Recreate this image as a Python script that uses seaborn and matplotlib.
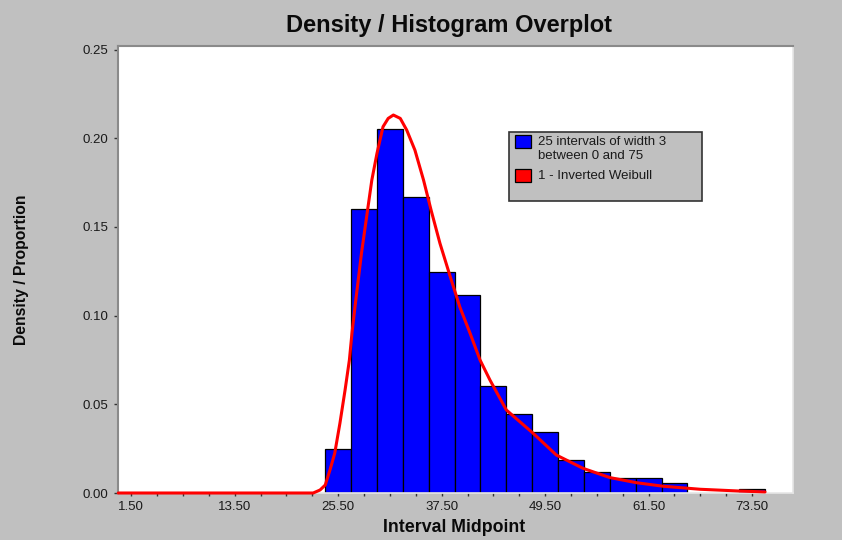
import numpy as np
import pandas as pd
import matplotlib
matplotlib.use("Agg")
import matplotlib.pyplot as plt
from matplotlib.patches import Rectangle
import seaborn as sns

# histogram: 25 intervals of width 3 between 0 and 75 (proportions)
bin_mids = np.arange(1.5, 75, 3)
bin_props = [0, 0, 0, 0, 0, 0, 0, 0, 0.0248, 0.160, 0.2052, 0.1669, 0.1248,
             0.1116, 0.0603, 0.0444, 0.0342, 0.0184, 0.0120, 0.0085, 0.0085,
             0.0055, 0, 0, 0.0023]

# fitted inverted weibull density
curve_x = [0, 22.6, 23.4, 24.0, 24.55, 25.1, 25.7, 26.3, 26.8, 27.1, 27.45,
           28.2, 28.8, 29.4, 30.0, 30.7, 31.3, 31.9, 32.7, 33.45, 34.4, 35.4,
           36.3, 37.3, 38.5, 39.6, 40.8, 41.95, 43.1, 45.0, 48.1, 50.8, 53.9,
           57.0, 60.1, 63.2, 67.5, 72.1, 75.0]
curve_y = [0, 0, 0.0017, 0.0045, 0.013, 0.0224, 0.0393, 0.0581, 0.0750,
           0.0902, 0.105, 0.1351, 0.1558, 0.1764, 0.1915, 0.2065, 0.2112,
           0.2131, 0.2112, 0.2046, 0.1933, 0.1764, 0.1590, 0.1408, 0.1219,
           0.1050, 0.0900, 0.0750, 0.0637, 0.0468, 0.0337, 0.0214, 0.0139,
           0.0087, 0.0058, 0.0038, 0.0021, 0.0011, 0.0006]

major_ticks = [1.5, 13.5, 25.5, 37.5, 49.5, 61.5, 73.5]
minor_ticks = list(bin_mids)
y_ticks = [0, 0.05, 0.10, 0.15, 0.20, 0.25]

legend_labels = ["25 intervals of width 3", "between 0 and 75", "1 - Inverted Weibull"]

hist_df = pd.DataFrame({"mid": bin_mids, "prop": bin_props})
curve_df = pd.DataFrame({"x": curve_x, "y": curve_y})

sns.set_style("white")
plt.rcParams["font.family"] = ["Liberation Sans", "DejaVu Sans"]

W, H = 842, 540
grey = "#c0c0c0"


def fx(px):
    return px / W


def fy(py):
    return 1 - py / H


fig = plt.figure(figsize=(W / 100, H / 100), dpi=100, facecolor=grey)
ax = fig.add_axes([fx(118.3), fy(493), (793.3 - 118.3) / W, (493 - 45.5) / H])
ax.set_facecolor("white")

sns.histplot(data=hist_df, x="mid", weights="prop", binwidth=3,
             binrange=(0, 75), stat="count", color="#0000ff",
             edgecolor="black", linewidth=0.9, alpha=1, ax=ax)
for p in ax.patches:
    if p.get_height() == 0:
        p.set_visible(False)

sns.lineplot(data=curve_df, x="x", y="y", color="#ff0000", linewidth=2.2,
             sort=False, estimator=None, ax=ax, clip_on=False, zorder=5)

ax.set_xlim(0, 78.28)
ax.set_ylim(0, 0.2523)
ax.set_xticks(major_ticks)
ax.set_xticklabels([f"{t:.2f}" for t in major_ticks])
ax.set_xticks(minor_ticks, minor=True)
ax.set_yticks(y_ticks)
ax.set_yticklabels([f"{t:.2f}" for t in y_ticks])
ax.set_xlabel("")
ax.set_ylabel("")

ax.tick_params(axis="x", which="both", direction="out", length=2.5, width=1,
               color="#333333", pad=3, labelsize=9.5, labelcolor="#1a1a1a",
               bottom=True)
ax.tick_params(axis="y", direction="out", length=3, width=1, color="#333333",
               pad=4, labelsize=9.5, labelcolor="#1a1a1a", left=True)

for side in ["top", "left"]:
    ax.spines[side].set_color("#8a8a8a")
    ax.spines[side].set_linewidth(1.5)
for side in ["right", "bottom"]:
    ax.spines[side].set_color("#e6e6e6")
    ax.spines[side].set_linewidth(1.2)

fig.text(fx(449), fy(31.7), "Density / Histogram Overplot", ha="center",
         va="baseline", fontsize=17, fontweight="bold", color="#0a0a0a")
fig.text(fx(454.5), fy(532.3), "Interval Midpoint", ha="center",
         va="baseline", fontsize=12.8, fontweight="bold", color="#0a0a0a")
fig.text(fx(22), fy(270), "Density / Proportion", ha="center", va="center",
         rotation=90, fontsize=11.3, fontweight="bold", color="#0a0a0a")

# legend box drawn like the original (grey box, square swatches)
fig.patches.append(Rectangle((fx(509.3), fy(201)), (702.3 - 509.3) / W,
                             (201 - 132) / H, transform=fig.transFigure,
                             facecolor=grey, edgecolor="#333333", lw=1.2,
                             zorder=10))
fig.patches.append(Rectangle((fx(515), fy(148)), 16 / W, 13 / H,
                             transform=fig.transFigure, facecolor="#0000ff",
                             edgecolor="black", lw=0.9, zorder=11))
fig.patches.append(Rectangle((fx(515), fy(181.5)), 16 / W, 13 / H,
                             transform=fig.transFigure, facecolor="#ff0000",
                             edgecolor="black", lw=0.9, zorder=11))
fig.text(fx(537.5), fy(142.3), legend_labels[0], ha="left", va="center",
         fontsize=9.5, color="#1a1a1a", zorder=12)
fig.text(fx(537.5), fy(156.5), legend_labels[1], ha="left", va="center",
         fontsize=9.5, color="#1a1a1a", zorder=12)
fig.text(fx(537.5), fy(176), legend_labels[2], ha="left", va="center",
         fontsize=9.5, color="#1a1a1a", zorder=12)

fig.savefig("out.png", dpi=100, facecolor=grey)
